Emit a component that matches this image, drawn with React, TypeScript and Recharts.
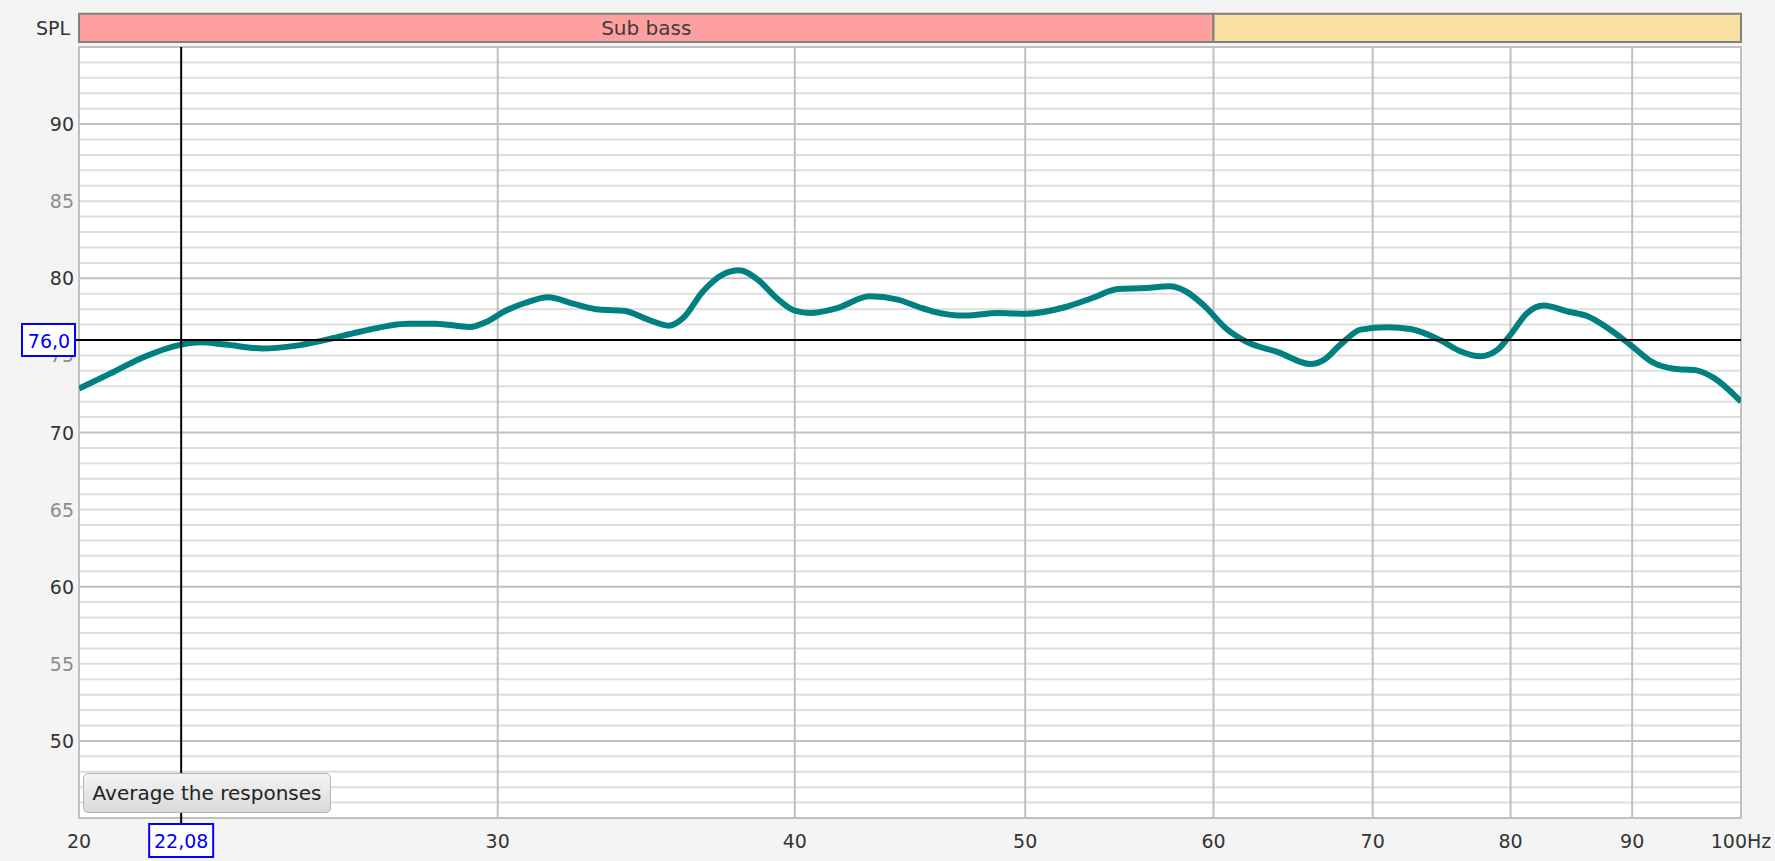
import React from 'react';
import {
  LineChart,
  Line,
  XAxis,
  YAxis,
  CartesianGrid,
  ReferenceLine,
  ReferenceArea,
} from 'recharts';

const freqs = [
  20.0, 20.6, 21.3, 22.08, 22.5, 23.05, 23.9, 24.6, 25.5, 26.2, 27.5, 28.25, 29.2, 29.7,
  30.2, 30.8, 31.5, 32.3, 33.1, 33.9, 34.7, 35.4, 35.9, 36.6, 37.3, 37.9, 38.6, 39.3,
  40.0, 40.6, 41.7, 43.0, 44.2, 45.1, 45.7, 47.2, 48.7, 50.0, 52.0, 53.35, 54.7, 56.2,
  57.5, 58.4, 59.5, 60.7, 61.9, 63.9, 65.9, 66.8, 67.85, 69.2, 71.0, 72.6, 74.75, 76.2,
  77.7, 79.0, 80.0, 81.3, 82.6, 84.5, 86.2, 88.1, 90.0, 91.9, 93.7, 95.8, 97.4, 100.0,
];
const spl = [
  72.85, 73.8, 74.9, 75.7, 75.85, 75.7, 75.45, 75.6, 76.07, 76.5, 77.06, 77.06, 76.84, 77.2,
  77.86, 78.4, 78.77, 78.34, 77.97, 77.9, 77.32, 76.93, 77.43, 79.16, 80.24, 80.52, 79.9, 78.72,
  77.9, 77.75, 78.08, 78.83, 78.62, 78.14, 77.86, 77.58, 77.75, 77.7, 78.14, 78.72, 79.31, 79.37,
  79.48, 79.16, 78.18, 76.78, 75.91, 75.2, 74.44, 74.73, 75.7, 76.67, 76.82, 76.71, 75.98, 75.27,
  74.94, 75.37, 76.35, 77.75, 78.23, 77.86, 77.54, 76.67, 75.59, 74.51, 74.14, 74.03, 73.54, 72.0,
];

const xTicks = [20, 30, 40, 50, 60, 70, 80, 90, 100];
const yTicks = [50, 55, 60, 65, 70, 75, 80, 85, 90];
const majorY = [50, 60, 70, 80, 90];
const minorY = [46, 47, 48, 49, 51, 52, 53, 54, 55, 56, 57, 58, 59, 61, 62, 63, 64, 65, 66, 67, 68, 69,
  71, 72, 73, 74, 75, 76, 77, 78, 79, 81, 82, 83, 84, 85, 86, 87, 88, 89, 91, 92, 93, 94];
const gridX = [30, 40, 50, 60, 70, 80, 90];

// frequency bands shown in the strip above the plot
const bands = [
  { from: 20, to: 60, name: 'Sub bass', color: '#FFA0A0' },
  { from: 60, to: 100, name: '', color: '#F8E1A0' },
];
// strip sits just above the plot, expressed in dB on the same scale
const bandTop = 97.15;
const bandBottom = 95.32;

const cursorFreq = 22.08;
const cursorSpl = 76.0;

const data = freqs.map((f, i) => ({ freq: f, spl: spl[i] }));

const FONT = '"DejaVu Sans", Tahoma, sans-serif';

const YTick = ({ x, y, payload }: any) => (
  <text
    x={x}
    y={y}
    textAnchor="end"
    dominantBaseline="central"
    fontSize={19}
    fill={payload.value % 10 === 0 ? '#333333' : '#8c8c8c'}
  >
    {payload.value}
  </text>
);

const XCursorTag = ({ viewBox }: any) => {
  if (!viewBox) return null;
  const cx = viewBox.x;
  const bottom = viewBox.y + viewBox.height;
  return (
    <g>
      <line x1={cx} x2={cx} y1={bottom} y2={bottom + 6} stroke="#000" strokeWidth={2} />
      <rect x={cx - 32} y={bottom + 6} width={64} height={33} fill="#fff" stroke="#0000ff" strokeWidth={2} />
      <text x={cx} y={bottom + 23} textAnchor="middle" dominantBaseline="central" fontSize={19} fill="#0000ff">
        {cursorFreq.toFixed(2).replace('.', ',')}
      </text>
    </g>
  );
};

const YCursorTag = ({ viewBox }: any) => {
  if (!viewBox) return null;
  const left = viewBox.x;
  const cy = viewBox.y;
  return (
    <g>
      <line x1={left - 4} x2={left} y1={cy} y2={cy} stroke="#000" strokeWidth={2} />
      <rect x={left - 57} y={cy - 16} width={53} height={32} fill="#fff" stroke="#0000ff" strokeWidth={2} />
      <text x={left - 30} y={cy + 1} textAnchor="middle" dominantBaseline="central" fontSize={19} fill="#0000ff">
        {cursorSpl.toFixed(1).replace('.', ',')}
      </text>
    </g>
  );
};

export default function App() {
  return (
    <div
      style={{
        position: 'relative',
        width: 1775,
        height: 861,
        background: '#f4f4f4',
        fontFamily: FONT,
        overflow: 'hidden',
      }}
    >
      <style>{'body{margin:0;background:#f4f4f4}'}</style>
      <div
        style={{
          position: 'absolute',
          left: 0,
          width: 70,
          top: 17,
          textAlign: 'right',
          fontSize: 19,
          lineHeight: '22px',
          color: '#333',
        }}
      >
        SPL
      </div>
      <LineChart
        width={1775}
        height={861}
        data={data}
        margin={{ top: 47, right: 34, bottom: 0, left: 0 }}
      >
        <CartesianGrid
          fill="#ffffff"
          stroke="#dedede"
          strokeWidth={2}
          vertical={false}
          horizontalValues={minorY}
        />
        <CartesianGrid
          stroke="#c0c0c0"
          strokeWidth={2}
          horizontalValues={majorY}
          verticalValues={gridX}
        />
        <XAxis
          dataKey="freq"
          type="number"
          scale="log"
          domain={[20, 100]}
          ticks={xTicks}
          allowDataOverflow
          axisLine={false}
          tickLine={false}
          tickSize={0}
          tickMargin={17}
          height={43}
          interval={0}
          tick={{ fill: '#333333', fontSize: 19 }}
          tickFormatter={(v: number) => (v === 100 ? '100Hz' : String(v))}
        />
        <YAxis
          type="number"
          domain={[45, 95]}
          ticks={yTicks}
          allowDataOverflow
          axisLine={false}
          tickLine={false}
          tickSize={0}
          tickMargin={5}
          width={79}
          interval={0}
          tick={<YTick />}
        />
        <ReferenceArea
          x1={20}
          x2={100}
          y1={45}
          y2={95}
          fill="none"
          fillOpacity={0}
          stroke="#c0c0c0"
          strokeWidth={2}
          ifOverflow="visible"
        />
        {bands.map((b) => (
          <ReferenceArea
            key={b.from}
            x1={b.from}
            x2={b.to}
            y1={bandBottom}
            y2={bandTop}
            fill={b.color}
            fillOpacity={1}
            stroke="#808080"
            strokeWidth={2}
            ifOverflow="visible"
            label={{ value: b.name, position: 'center', fill: '#3c3c3c', fontSize: 20 }}
          />
        ))}
        <Line
          type="monotone"
          dataKey="spl"
          stroke="#008080"
          strokeWidth={6}
          dot={false}
          activeDot={false}
          isAnimationActive={false}
        />
        <ReferenceLine x={cursorFreq} stroke="#000" strokeWidth={2} zIndex={2500} label={<XCursorTag />} />
        <ReferenceLine y={cursorSpl} stroke="#000" strokeWidth={2} zIndex={2500} label={<YCursorTag />} />
      </LineChart>
      <div
        style={{
          position: 'absolute',
          left: 83,
          top: 773,
          width: 248,
          height: 40,
          border: '1px solid #b4b4b4',
          borderRadius: 5,
          background: 'linear-gradient(#f4f4f4, #dadada)',
          boxSizing: 'border-box',
          fontSize: 20,
          lineHeight: '38px',
          textAlign: 'center',
          color: '#222',
          whiteSpace: 'nowrap',
        }}
      >
        Average the responses
      </div>
    </div>
  );
}
